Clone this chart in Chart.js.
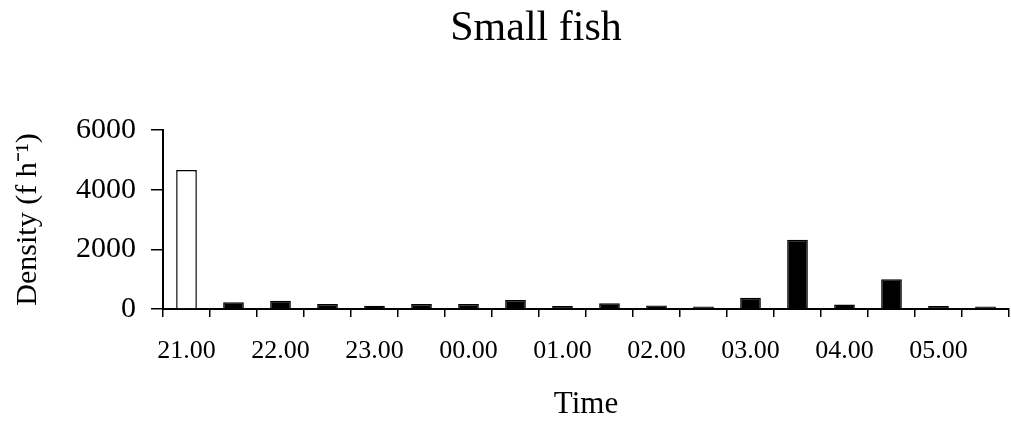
<!DOCTYPE html>
<html>
<head>
<meta charset="utf-8">
<script src="https://cdn.jsdelivr.net/npm/chart.js@4"></script>
<style>
  html, body { margin: 0; padding: 0; background: #fff; }
  #wrap { width: 1011px; height: 423px; }
</style>
</head>
<body>
<div id="wrap"><canvas id="grafico"></canvas></div>
<script>
// half-hour sampling times, 21.00 to 05.30
const horarios = ["21.00", "21.30", "22.00", "22.30", "23.00", "23.30", "00.00", "00.30", "01.00",
                  "01.30", "02.00", "02.30", "03.00", "03.30", "04.00", "04.30", "05.00", "05.30"];
// density of small fish (f h-1)
const densidade = [4660, 230, 280, 170, 110, 170, 170, 300, 100,
                   190, 120, 80, 380, 2320, 150, 1000, 100, 80];
const yTicks = [0, 2000, 4000, 6000];

const serif = "'Liberation Serif', 'Times New Roman', serif";

/* titulo desenhado no canvas */
const tituloPlugin = {
    id: "tituloFixo",
    afterDraw(chart) {
        const ctx = chart.ctx;
        ctx.save();
        ctx.fillStyle = "#000";
        ctx.font = "42px " + serif;
        ctx.textAlign = "center";
        ctx.textBaseline = "alphabetic";
        ctx.fillText("Small fish", 536, 40);
        ctx.restore();
    }
};

new Chart(document.getElementById("grafico"), {
    type: "bar",
    data: {
        labels: horarios,
        datasets: [{
            data: densidade,
            backgroundColor: densidade.map((v, i) => i === 0 ? "#ffffff" : "#000000"),
            borderColor: "#000000",
            borderWidth: 1.5,
            barPercentage: 0.44,
            categoryPercentage: 1.0
        }]
    },
    options: {
        responsive: true,
        maintainAspectRatio: false,
        animation: false,
        layout: { padding: { top: 130, right: 2, bottom: 0, left: 0 } },
        plugins: {
            legend: { display: false },
            tooltip: { enabled: false },
            title: { display: false }
        },
        scales: {
            x: {
                offset: true,
                grid: {
                    offset: true,
                    drawOnChartArea: false,
                    tickLength: 8,
                    color: "#000",
                    lineWidth: 1.5
                },
                border: { color: "#000", width: 2 },
                ticks: {
                    autoSkip: false,
                    maxRotation: 0,
                    color: "#000",
                    padding: 19,
                    font: { family: serif, size: 26 },
                    callback: function (val, i) { return i % 2 === 0 ? horarios[i] : ""; }
                },
                title: {
                    display: true,
                    text: "Time",
                    color: "#000",
                    font: { family: serif, size: 31 },
                    padding: { top: 0, bottom: 0 }
                },
                afterFit: (s) => { s.height = 114; }
            },
            y: {
                min: 0,
                max: 6000,
                afterBuildTicks: (s) => { s.ticks = yTicks.map(v => ({ value: v })); },
                grid: {
                    drawOnChartArea: false,
                    tickLength: 12,
                    color: "#000",
                    lineWidth: 1.5
                },
                border: { color: "#000", width: 2 },
                ticks: {
                    color: "#000",
                    padding: 15,
                    font: { family: serif, size: 30 },
                    callback: (v) => String(v)
                },
                title: {
                    display: true,
                    text: "Density (f h⁻¹)",
                    color: "#000",
                    font: { family: serif, size: 30 },
                    padding: { top: 10, bottom: 0 }
                },
                afterFit: (s) => { s.width = 163; }
            }
        }
    },
    plugins: [tituloPlugin]
});
</script>
</body>
</html>
